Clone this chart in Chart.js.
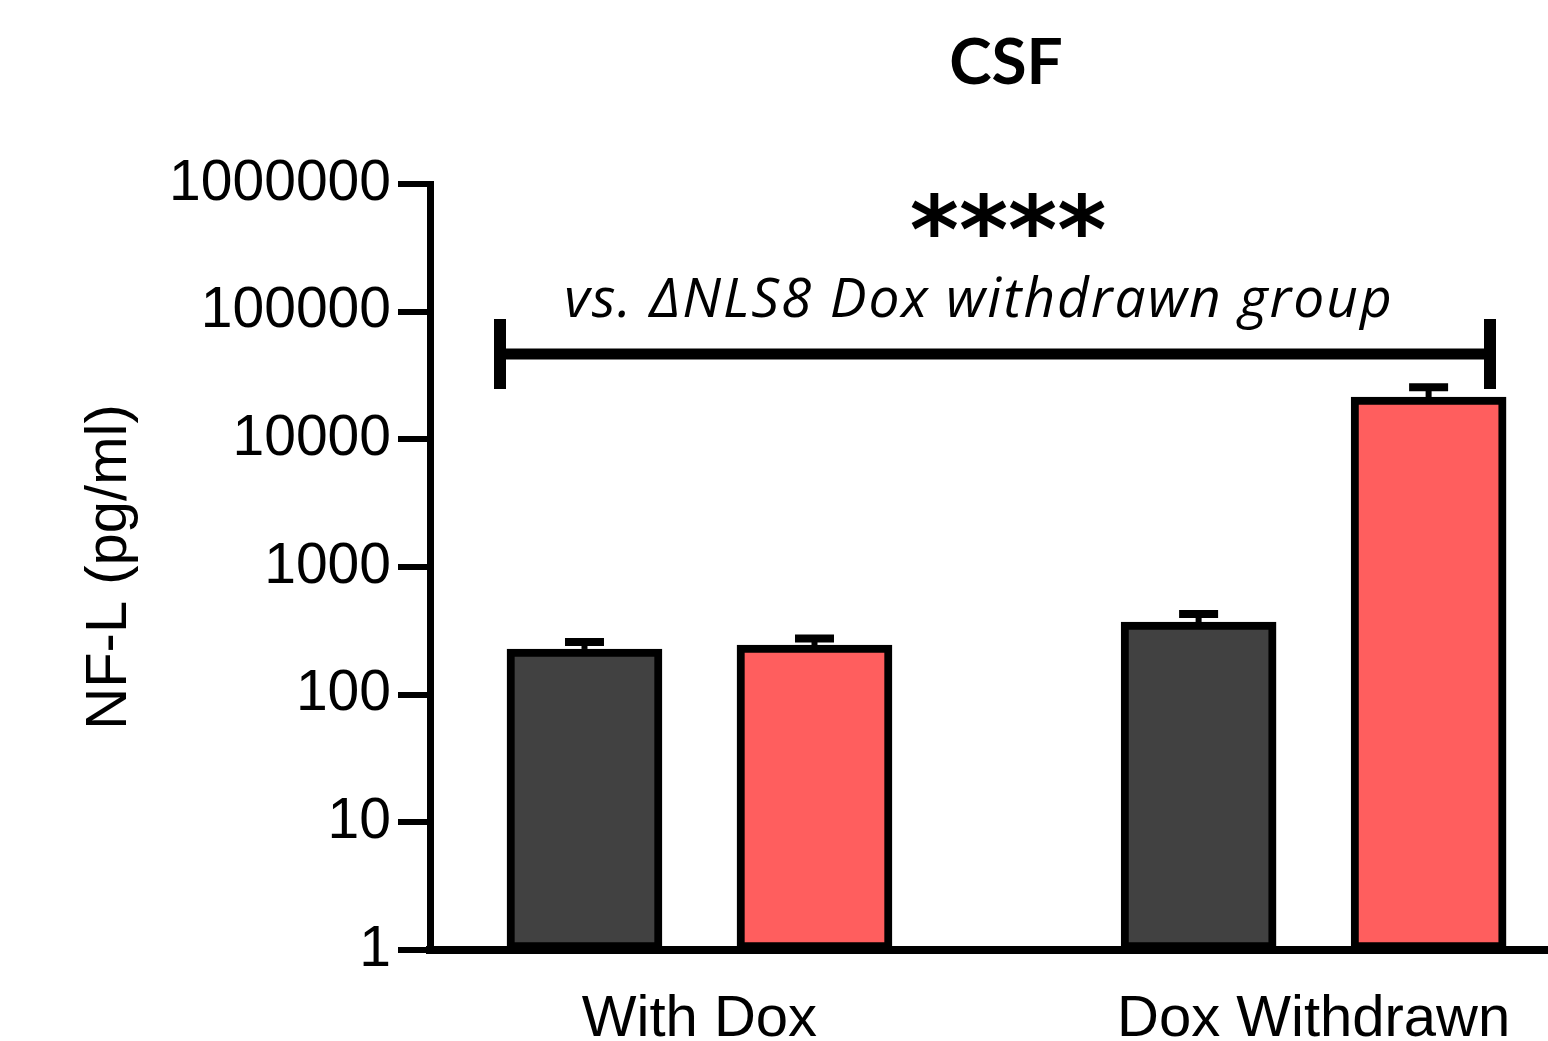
<!DOCTYPE html>
<html>
<head>
<meta charset="utf-8">
<script src="https://cdn.jsdelivr.net/npm/chart.js@4"></script>
<style>
html,body{margin:0;padding:0;background:#fff;}
#wrap{width:1548px;height:1041px;position:relative;}
</style>
</head>
<body>
<div id="wrap"><canvas id="c"></canvas></div>
<script>
// ---- data ----
const categories = ['With Dox', 'Dox Withdrawn'];
const seriesNames = ['Control', 'ΔNLS8'];
const controlMeans = [228, 370];
const controlSem = [30, 58];
const nlsMeans = [245, 21400];
const nlsSem = [30, 4200];
const yTickValues = [1, 10, 100, 1000, 10000, 100000, 1000000];
const titleText = 'CSF';
const sigStars = '****';
const sigNote = 'vs. ΔNLS8 Dox withdrawn group';

// ---- layout helpers ----
const GROUP_STEP = 2.67;
const BAR_STEP = 1;
const pos = (g, s) => g * GROUP_STEP + s * BAR_STEP;
const toPoints = (means, s) => means.map((v, g) => ({x: pos(g, s), y: v}));

const axisFont = {family: 'Liberation Sans, Arial, sans-serif', size: 58};

const overlay = {
  id: 'overlay',
  afterDatasetsDraw(chart) {
    const ctx = chart.ctx;
    const y = chart.scales.y;
    chart.data.datasets.forEach((ds, di) => {
      const meta = chart.getDatasetMeta(di);
      meta.data.forEach((el, i) => {
        const top = y.getPixelForValue(ds.data[i].y);
        const cap = y.getPixelForValue(ds.data[i].y + ds.sem[i]);
        ctx.save();
        ctx.strokeStyle = '#000';
        ctx.lineCap = 'butt';
        ctx.lineWidth = 6;
        ctx.beginPath(); ctx.moveTo(el.x, top); ctx.lineTo(el.x, cap); ctx.stroke();
        ctx.lineWidth = 8;
        ctx.beginPath(); ctx.moveTo(el.x - 19.5, cap); ctx.lineTo(el.x + 19.5, cap); ctx.stroke();
        ctx.restore();
      });
    });
  },
  afterDraw(chart) {
    const ctx = chart.ctx;
    ctx.save();
    ctx.fillStyle = '#000';
    ctx.strokeStyle = '#000';
    // title
    ctx.font = 'bold 64px Lato, sans-serif';
    ctx.textAlign = 'center';
    ctx.textBaseline = 'alphabetic';
    ctx.fillText(titleText, 1006, 84);
    // bracket
    ctx.lineCap = 'butt';
    ctx.lineWidth = 11;
    ctx.beginPath(); ctx.moveTo(500, 354); ctx.lineTo(1490, 354); ctx.stroke();
    ctx.lineWidth = 12;
    ctx.beginPath(); ctx.moveTo(500, 319); ctx.lineTo(500, 389); ctx.stroke();
    ctx.beginPath(); ctx.moveTo(1490, 319); ctx.lineTo(1490, 389); ctx.stroke();
    // note
    ctx.font = 'italic 55px "Open Sans", sans-serif';
    if ('letterSpacing' in ctx) ctx.letterSpacing = '2px';
    ctx.fillText(sigNote, 979, 317);
    if ('letterSpacing' in ctx) ctx.letterSpacing = '0px';
    // stars
    ctx.font = 'bold italic 94px "DejaVu Sans", sans-serif';
    ctx.textAlign = 'left';
    const m = ctx.measureText(sigStars);
    const h = m.actualBoundingBoxAscent - m.actualBoundingBoxDescent;
    const w = m.actualBoundingBoxLeft + m.actualBoundingBoxRight;
    ctx.fillText(sigStars, 1008 - w / 2 + m.actualBoundingBoxLeft, 215 + h / 2);
    ctx.restore();
  }
};

new Chart(document.getElementById('c'), {
  type: 'bar',
  data: {
    datasets: [
      {label: seriesNames[0], data: toPoints(controlMeans, 0), sem: controlSem,
       backgroundColor: '#414141', borderColor: '#000', borderWidth: 8, borderSkipped: false,
       grouped: false, barThickness: 155},
      {label: seriesNames[1], data: toPoints(nlsMeans, 1), sem: nlsSem,
       backgroundColor: '#FF5E5E', borderColor: '#000', borderWidth: 8, borderSkipped: false,
       grouped: false, barThickness: 155}
    ]
  },
  options: {
    responsive: true,
    maintainAspectRatio: false,
    animation: false,
    layout: {padding: {top: 184, left: 0, right: 0, bottom: 0}},
    plugins: {legend: {display: false}, tooltip: {enabled: false}},
    scales: {
      x: {
        type: 'linear', bounds: 'data', offset: false,
        min: -0.6717, max: 4.1891,
        grid: {display: false, drawTicks: false, offset: false},
        border: {display: true, width: 8, color: '#000'},
        ticks: {padding: 35, font: axisFont, color: '#000', maxRotation: 0, autoSkip: false,
                callback: (v, i) => categories[i]},
        afterBuildTicks: s => { s.ticks = categories.map((c, g) => ({value: pos(g, 0.5)})); },
        afterFit: s => { s.height = 91; }
      },
      y: {
        type: 'logarithmic', bounds: 'data', offset: false,
        min: 1, max: 1000000,
        grid: {display: true, drawOnChartArea: false, drawTicks: true, tickLength: 32, lineWidth: 6, color: '#000'},
        border: {display: true, width: 7, color: '#000'},
        ticks: {padding: 7, font: {family: 'Liberation Sans, Arial, sans-serif', size: 57}, color: '#000', autoSkip: false,
                callback: v => String(v)},
        afterBuildTicks: s => { s.ticks = yTickValues.map(v => ({value: v})); },
        title: {display: true, text: 'NF-L (pg/ml)', color: '#000',
                font: {family: 'Liberation Sans, Arial, sans-serif', size: 58},
                padding: {top: 75, bottom: 0}},
        afterFit: s => { s.width = 430; }
      }
    }
  },
  plugins: [overlay]
});
</script>
</body>
</html>
